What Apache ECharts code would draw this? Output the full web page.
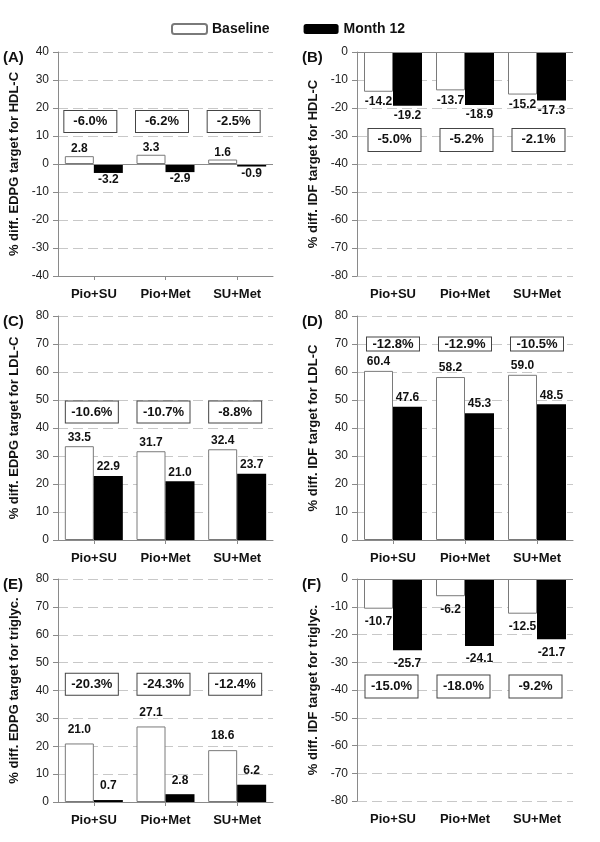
<!DOCTYPE html>
<html><head><meta charset="utf-8">
<script src="https://cdn.jsdelivr.net/npm/echarts@6/dist/echarts.min.js"></script>
<style>html,body{margin:0;padding:0;background:#fff}#c{width:600px;height:842px}</style>
</head><body><div id="c"></div>
<script>
// ---------- DATA ----------
const categories = ['Pio+SU', 'Pio+Met', 'SU+Met'];
const seriesNames = ['Baseline', 'Month 12'];

const baselineA = [2.8, 3.3, 1.6];
const month12A  = [-3.2, -2.9, -0.9];
const diffA     = ['-6.0%', '-6.2%', '-2.5%'];

const baselineB = [-14.2, -13.7, -15.2];
const month12B  = [-19.2, -18.9, -17.3];
const diffB     = ['-5.0%', '-5.2%', '-2.1%'];

const baselineC = [33.5, 31.7, 32.4];
const month12C  = [22.9, 21.0, 23.7];
const diffC     = ['-10.6%', '-10.7%', '-8.8%'];

const baselineD = [60.4, 58.2, 59.0];
const month12D  = [47.6, 45.3, 48.5];
const diffD     = ['-12.8%', '-12.9%', '-10.5%'];

const baselineE = [21.0, 27.1, 18.6];
const month12E  = [0.7, 2.8, 6.2];
const diffE     = ['-20.3%', '-24.3%', '-12.4%'];

const baselineF = [-10.7, -6.2, -12.5];
const month12F  = [-25.7, -24.1, -21.7];
const diffF     = ['-15.0%', '-18.0%', '-9.2%'];

const panelLetters = ['(A)', '(B)', '(C)', '(D)', '(E)', '(F)'];
const yAxisNames = [
  '% diff. EDPG target for HDL-C',
  '% diff. IDF target for HDL-C',
  '% diff. EDPG target for LDL-C',
  '% diff. IDF target for LDL-C',
  '% diff. EDPG target for triglyc.',
  '% diff. IDF target for triglyc.'
];
const yMin = [-40, -80, 0, 0, 0, -80];
const yMax = [40, 0, 80, 80, 80, 0];
const yInterval = 10;

// ---------- LAYOUT / STYLE ----------
const panels = [
  {base: baselineA, month: month12A, diff: diffA, left: 58,  top: 52,  width: 215, height: 224, boxY: 15.2,  boxH: 23, boxDx: 11, labDist: 1, bottomLine: true,  zeroLine: true},
  {base: baselineB, month: month12B, diff: diffB, left: 357, top: 52,  width: 216, height: 224, boxY: -31.4, boxH: 24, boxDx: 16, labDist: 4, bottomLine: false, zeroLine: true},
  {base: baselineC, month: month12C, diff: diffC, left: 58,  top: 316, width: 215, height: 224, boxY: 45.7,  boxH: 23, boxDx: 12.5, labDist: 3, bottomLine: true,  zeroLine: false},
  {base: baselineD, month: month12D, diff: diffD, left: 357, top: 316, width: 216, height: 224, boxY: 70.0,  boxH: 15, boxDx: 14.5, labDist: 3, bottomLine: true,  zeroLine: false},
  {base: baselineE, month: month12E, diff: diffE, left: 58,  top: 579, width: 215, height: 223, boxY: 42.2,  boxH: 23, boxDx: 12.5, labDist: 8, bottomLine: true,  zeroLine: false},
  {base: baselineF, month: month12F, diff: diffF, left: 357, top: 579, width: 216, height: 222, boxY: -38.7, boxH: 24, boxDx: 13, labDist: 7, bottomLine: false, zeroLine: true}
];
const FONT = 'Liberation Sans, Arial, sans-serif';
const AXIS = '#8a8a8a';

const grid = [], xAxis = [], yAxis = [], series = [], title = [];
panels.forEach((p, i) => {
  grid.push({left: p.left, top: p.top, width: p.width, height: p.height, containLabel: false});
  xAxis.push({
    type: 'category', gridIndex: i, data: categories,
    axisLine: {show: p.bottomLine, onZero: false, lineStyle: {color: AXIS, width: 1}},
    axisTick: {show: p.bottomLine, alignWithLabel: true, length: 4, lineStyle: {color: AXIS}},
    axisLabel: {fontFamily: FONT, fontSize: 13, fontWeight: 'bold', color: '#111', margin: 12},
    splitLine: {show: false}
  });
  yAxis.push({
    type: 'value', gridIndex: i, min: yMin[i], max: yMax[i], interval: yInterval,
    name: yAxisNames[i], nameLocation: 'middle', nameRotate: 90, nameGap: 37,
    nameTextStyle: {fontFamily: FONT, fontSize: 13, fontWeight: 'bold', color: '#111'},
    axisLine: {show: true, lineStyle: {color: AXIS, width: 1}},
    axisTick: {show: true, length: 5, lineStyle: {color: AXIS}},
    axisLabel: {fontFamily: FONT, fontSize: 12, color: '#222', margin: 9},
    splitLine: {show: true, lineStyle: {color: '#c8c8c8', type: [10, 5], width: 1}}
  });
  const labelCommon = {show: true, position: 'outside', distance: p.labDist,
    fontFamily: FONT, fontSize: 12, fontWeight: 'bold', color: '#111',
    formatter: (d) => d.value.toFixed(1)};
  const baseSeries = {
    name: seriesNames[0], type: 'bar', xAxisIndex: i, yAxisIndex: i,
    data: p.base, barWidth: 29, barGap: '0%',
    itemStyle: {color: '#ffffff', borderColor: '#7a7a7a', borderWidth: 1},
    label: labelCommon,
    markPoint: {
      silent: true, symbol: 'rect', symbolSize: 1, symbolOffset: [p.boxDx, 0],
      itemStyle: {color: 'rgba(0,0,0,0)'},
      label: {show: true, position: 'inside', fontFamily: FONT, fontSize: 13, fontWeight: 'bold', color: '#111',
        backgroundColor: '#ffffff', borderColor: '#444', borderWidth: 1,
        width: 52, height: p.boxH - 2, lineHeight: p.boxH - 2, align: 'center', verticalAlign: 'middle', padding: 0},
      data: p.diff.map((t, k) => ({coord: [k, p.boxY], value: t, label: {formatter: t}}))
    }
  };
  if (p.zeroLine) {
    baseSeries.markLine = {silent: true, symbol: ['none', 'none'], label: {show: false},
      lineStyle: {color: AXIS, type: 'solid', width: 1}, data: [{yAxis: 0}]};
  }
  series.push(baseSeries);
  series.push({
    name: seriesNames[1], type: 'bar', xAxisIndex: i, yAxisIndex: i,
    data: p.month, barWidth: 29, barGap: '0%',
    itemStyle: {color: '#000000'},
    label: labelCommon
  });
  title.push({text: panelLetters[i], left: p.left - 60, top: p.top - 7,
    textStyle: {fontFamily: FONT, fontSize: 15, fontWeight: 'bold', color: '#111'}});
});

const chart = echarts.init(document.getElementById('c'), null, {renderer: 'canvas'});
chart.setOption({
  animation: false,
  backgroundColor: '#ffffff',
  title: title,
  legend: {
    data: seriesNames, left: 166, top: 17, itemWidth: 35, itemHeight: 10, itemGap: 34,
    textStyle: {fontFamily: FONT, fontSize: 14, fontWeight: 'bold', color: '#111'}
  },
  grid: grid, xAxis: xAxis, yAxis: yAxis, series: series
});
</script></body></html>
